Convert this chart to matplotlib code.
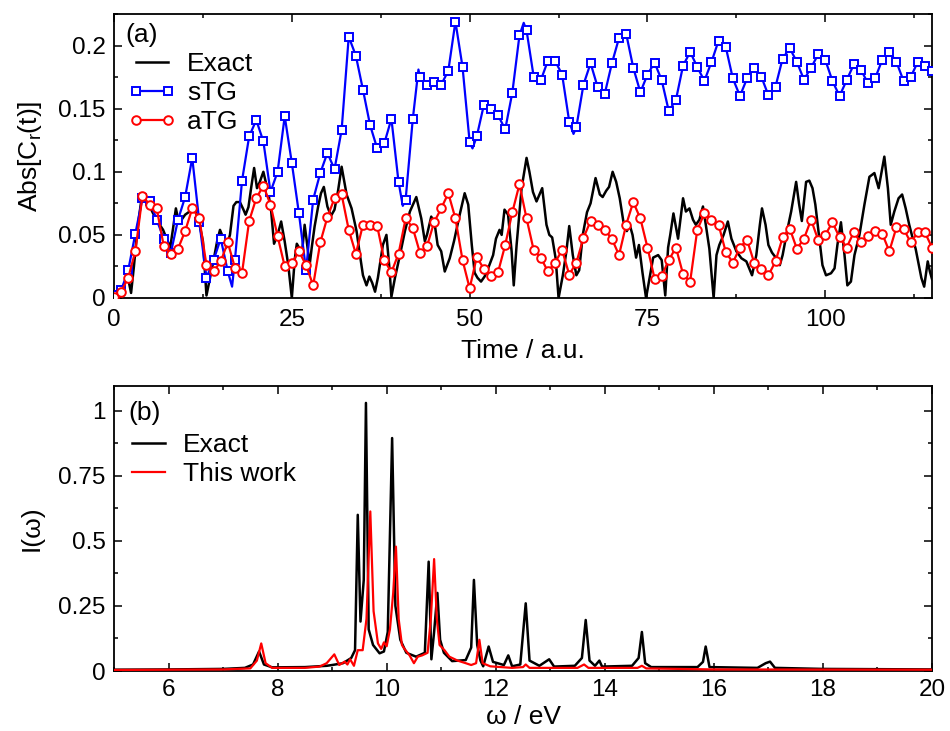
import matplotlib
matplotlib.use("Agg")
import matplotlib.pyplot as plt
import numpy as np

plt.rcParams['font.family'] = ['Liberation Sans', 'DejaVu Sans']
plt.rcParams['mathtext.default'] = 'regular'

# ---------------- Panel (a) data ----------------
exact_t = [0.0, 0.5, 1.0, 1.5, 2.0, 2.4, 2.8, 3.3, 3.9, 4.3, 4.8, 5.5, 6.2, 6.9, 7.4, 7.9,
           8.3, 8.7, 9.1, 9.5, 10.0, 10.5, 11.0, 11.5, 12.0, 12.5, 13.0, 13.5, 14.0, 14.5,
           14.9, 15.4, 15.8, 16.3, 16.8, 17.2, 17.7, 18.2, 18.5, 18.9, 19.3, 19.7, 20.1,
           20.5, 21.0, 21.7, 22.1, 22.5, 23.0, 23.5, 24.0, 24.5, 25.0, 25.4, 25.7, 26.0,
           26.4, 26.8, 27.1, 27.5, 27.8, 28.2, 28.7, 29.1, 29.5, 30.0, 30.5, 31.0, 31.5,
           32.0, 32.7, 33.4, 34.1, 34.5, 35.0, 35.5, 35.9, 36.3, 36.7, 37.1, 37.8, 38.3,
           38.7, 39.0, 39.5, 40.2, 40.9, 41.6, 42.5, 43.2, 43.7, 44.0, 44.6, 45.1, 45.5,
           46.0, 46.5, 47.2, 47.8, 48.6, 49.3, 49.8, 50.3, 50.7, 51.1, 51.6, 52.1, 52.7,
           53.3, 53.7, 54.2, 54.5, 54.9, 55.4, 55.9, 56.2, 56.6, 57.3, 58.0, 58.4, 58.9,
           59.4, 60.2, 60.8, 61.2, 61.6, 62.1, 62.5, 63.1, 63.6, 64.0, 64.5, 65.0, 65.4,
           65.9, 66.5, 67.0, 67.7, 68.3, 68.7, 69.2, 69.6, 70.1, 70.6, 71.1, 71.6, 72.1,
           72.5, 72.9, 73.4, 73.8, 74.3, 74.8, 75.3, 75.8, 76.5, 77.0, 77.5, 77.9, 78.2,
           78.65, 79.3, 80.0, 80.4, 80.9, 81.4, 81.8, 82.3, 82.8, 83.2, 83.7, 84.3, 84.7,
           85.1, 85.7, 86.3, 86.8, 87.5, 88.2, 88.9, 89.3, 89.7, 90.3, 90.8, 91.1, 91.6,
           92.0, 92.5, 93.1, 93.6, 94.0, 94.7, 95.2, 95.9, 96.3, 96.7, 97.3, 97.75, 98.2,
           98.6, 99.1, 99.6, 100.1, 100.8, 101.3, 101.7, 102.2, 102.7, 103.1, 103.6,
           104.1, 104.8, 105.5, 106.2, 106.9, 107.5, 108.3, 108.8, 109.2, 109.7, 110.3,
           110.8, 111.3, 111.8, 112.3, 112.7, 113.5, 113.9, 114.4, 114.7, 115.0]
exact_abs = [0.0, 0.002, 0.006, 0.012, 0.015, 0.004, 0.025, 0.055, 0.080, 0.082, 0.075,
             0.067, 0.060, 0.054, 0.047, 0.040, 0.055, 0.071, 0.060, 0.062, 0.066, 0.068,
             0.072, 0.068, 0.059, 0.045, 0.002, 0.016, 0.030, 0.045, 0.054, 0.047, 0.040,
             0.050, 0.073, 0.076, 0.076, 0.070, 0.066, 0.072, 0.088, 0.103, 0.087, 0.092,
             0.100, 0.083, 0.0685, 0.043, 0.050, 0.0606, 0.0447, 0.026, 0.0, 0.030, 0.043,
             0.040, 0.034, 0.058, 0.045, 0.026, 0.040, 0.0566, 0.0725, 0.083, 0.088,
             0.0725, 0.065, 0.070, 0.085, 0.104, 0.082, 0.071, 0.053, 0.037, 0.018, 0.010,
             0.017, 0.012, 0.005, 0.016, 0.042, 0.050, 0.025, 0.001, 0.016, 0.034, 0.053,
             0.0685, 0.080, 0.063, 0.045, 0.050, 0.0645, 0.058, 0.042, 0.037, 0.021,
             0.0315, 0.045, 0.066, 0.083, 0.074, 0.042, 0.020, 0.016, 0.013, 0.017, 0.025,
             0.034, 0.047, 0.054, 0.050, 0.070, 0.066, 0.037, 0.010, 0.042, 0.087, 0.111,
             0.100, 0.084, 0.0765, 0.087, 0.058, 0.050, 0.048, 0.031, 0.0, 0.018, 0.037,
             0.057, 0.034, 0.018, 0.022, 0.050, 0.068, 0.075, 0.095, 0.082, 0.080, 0.085,
             0.088, 0.100, 0.092, 0.079, 0.061, 0.053, 0.058, 0.050, 0.032, 0.042, 0.020,
             0.0, 0.016, 0.032, 0.034, 0.030, 0.002, 0.040, 0.050, 0.067, 0.047, 0.079,
             0.0685, 0.071, 0.062, 0.058, 0.062, 0.0725, 0.058, 0.039, 0.0, 0.034, 0.042,
             0.050, 0.0606, 0.047, 0.037, 0.0315, 0.029, 0.0235, 0.018, 0.034, 0.058,
             0.071, 0.058, 0.042, 0.036, 0.0315, 0.026, 0.034, 0.055, 0.0685, 0.092,
             0.075, 0.061, 0.092, 0.093, 0.087, 0.074, 0.050, 0.026, 0.018, 0.0196,
             0.0235, 0.042, 0.060, 0.034, 0.010, 0.013, 0.034, 0.050, 0.074, 0.096, 0.099,
             0.087, 0.112, 0.087, 0.058, 0.0685, 0.079, 0.082, 0.071, 0.058, 0.047, 0.039,
             0.016, 0.009, 0.029, 0.021, 0.015]

stg_t = [0, 1, 2, 3, 4, 5, 6, 7, 8, 9, 10, 11, 12, 13, 14, 15, 16, 16.6, 17, 18, 19, 20,
         21, 22, 23, 24, 25, 26, 27, 28, 29, 30, 31, 32, 33, 34, 35, 36, 37, 38, 39, 40,
         40.6, 41, 42, 42.8, 43, 44, 45, 46, 47, 48, 49, 50, 50.4, 51, 52, 53, 54, 55, 56,
         57, 57.6, 58, 59, 60, 61, 62, 63, 64, 64.6, 65, 66, 67, 68, 69, 70, 71, 72, 73,
         74, 75, 76, 77, 78, 79, 80, 81, 82, 83, 84, 85, 86, 87, 88, 89, 90, 91, 92, 93,
         94, 95, 96, 97, 98, 99, 100, 101, 102, 103, 104, 105, 106, 107, 108, 109, 110,
         111, 112, 113, 114, 115]
stg_abs = [0.002, 0.006, 0.022, 0.051, 0.079, 0.077, 0.062, 0.047, 0.036, 0.062, 0.080,
           0.111, 0.060, 0.016, 0.030, 0.047, 0.021, 0.009, 0.030, 0.093, 0.128, 0.141,
           0.124, 0.084, 0.100, 0.144, 0.107, 0.067, 0.022, 0.078, 0.099, 0.115, 0.102,
           0.133, 0.207, 0.192, 0.165, 0.137, 0.1185, 0.1225, 0.142, 0.092, 0.073, 0.078,
           0.1415, 0.181, 0.175, 0.169, 0.171, 0.169, 0.180, 0.219, 0.183, 0.1235, 0.1185,
           0.128, 0.153, 0.150, 0.1447, 0.1336, 0.1627, 0.208, 0.218, 0.212, 0.1754,
           0.1725, 0.188, 0.188, 0.177, 0.1397, 0.130, 0.1354, 0.169, 0.186, 0.167, 0.162,
           0.186, 0.206, 0.2095, 0.1825, 0.163, 0.177, 0.1865, 0.1725, 0.148, 0.157,
           0.184, 0.195, 0.183, 0.172, 0.187, 0.204, 0.199, 0.174, 0.160, 0.174, 0.1825,
           0.1754, 0.1606, 0.1675, 0.1897, 0.198, 0.187, 0.173, 0.1825, 0.193, 0.1886,
           0.172, 0.160, 0.1725, 0.185, 0.181, 0.170, 0.174, 0.1886, 0.195, 0.187, 0.172,
           0.175, 0.187, 0.184, 0.180]

atg_t = list(range(0, 116))
atg_abs = [0.001, 0.005, 0.016, 0.037, 0.081, 0.074, 0.071, 0.041, 0.035, 0.039, 0.053,
           0.071, 0.063, 0.026, 0.021, 0.029, 0.044, 0.024, 0.020, 0.061, 0.079, 0.089,
           0.074, 0.049, 0.025, 0.0275, 0.037, 0.026, 0.010, 0.044, 0.064, 0.079, 0.082,
           0.054, 0.035, 0.058, 0.058, 0.057, 0.030, 0.0204, 0.035, 0.063, 0.0556, 0.036,
           0.041, 0.060, 0.071, 0.083, 0.063, 0.030, 0.0077, 0.0325, 0.023, 0.0172,
           0.0206, 0.042, 0.068, 0.090, 0.063, 0.038, 0.032, 0.021, 0.028, 0.038, 0.0185,
           0.028, 0.0476, 0.061, 0.058, 0.054, 0.0468, 0.034, 0.058, 0.076, 0.063, 0.040,
           0.0153, 0.0177, 0.030, 0.040, 0.019, 0.013, 0.054, 0.067, 0.062, 0.058, 0.0365,
           0.028, 0.040, 0.046, 0.028, 0.023, 0.018, 0.029, 0.048, 0.055, 0.039, 0.047,
           0.062, 0.046, 0.050, 0.060, 0.048, 0.040, 0.052, 0.044, 0.049, 0.053, 0.051,
           0.037, 0.056, 0.055, 0.044, 0.052, 0.052, 0.040]

a_xticks = [0, 25, 50, 75, 100]
a_xlabels = ['0', '25', '50', '75', '100']
a_yticks = [0, 0.05, 0.1, 0.15, 0.2]
a_ylabels = ['0', '0.05', '0.1', '0.15', '0.2']

# ---------------- Panel (b) data ----------------
exact_w = [5.0, 6.0, 7.0, 7.4, 7.55, 7.66, 7.75, 7.9, 8.5, 8.9, 9.0, 9.2, 9.35, 9.42, 9.47,
           9.52, 9.58, 9.62, 9.67, 9.75, 9.87, 9.95, 10.02, 10.1, 10.16, 10.25, 10.36,
           10.54, 10.7, 10.77, 10.82, 10.87, 10.93, 10.98, 11.05, 11.2, 11.45, 11.55, 11.6,
           11.66, 11.72, 11.77, 11.87, 11.95, 12.15, 12.23, 12.3, 12.45, 12.55, 12.62,
           12.8, 12.98, 13.07, 13.45, 13.58, 13.65, 13.72, 13.82, 13.9, 13.95, 14.5, 14.62,
           14.68, 14.74, 14.85, 15.7, 15.8, 15.85, 15.92, 16.8, 16.95, 17.03, 17.12, 18.0,
           20.0]
exact_I = [0.005, 0.006, 0.008, 0.012, 0.025, 0.075, 0.025, 0.014, 0.015, 0.02, 0.023,
           0.03, 0.05, 0.08, 0.60, 0.19, 0.35, 1.03, 0.16, 0.10, 0.068, 0.075, 0.15, 0.895,
           0.25, 0.12, 0.07, 0.055, 0.07, 0.42, 0.045, 0.15, 0.30, 0.12, 0.07, 0.038,
           0.042, 0.09, 0.35, 0.10, 0.04, 0.018, 0.094, 0.035, 0.023, 0.06, 0.018, 0.025,
           0.26, 0.04, 0.02, 0.045, 0.017, 0.02, 0.05, 0.196, 0.04, 0.02, 0.04, 0.017,
           0.02, 0.05, 0.15, 0.03, 0.015, 0.015, 0.035, 0.094, 0.015, 0.012, 0.03, 0.036,
           0.012, 0.008, 0.006]

work_w = [5.0, 7.0, 7.5, 7.62, 7.7, 7.78, 7.9, 8.5, 8.77, 8.9, 9.04, 9.13, 9.23, 9.28,
          9.33, 9.4, 9.47, 9.56, 9.63, 9.7, 9.76, 9.84, 9.9, 9.95, 10.0, 10.06, 10.12,
          10.17, 10.22, 10.28, 10.32, 10.42, 10.5, 10.57, 10.65, 10.75, 10.81, 10.87,
          10.92, 10.97, 11.06, 11.15, 11.3, 11.45, 11.55, 11.64, 11.7, 11.76, 11.9, 12.3,
          12.5, 12.55, 12.62, 13.5, 13.62, 13.7, 14.6, 14.68, 14.76, 16.0, 20.0]
work_I = [0.004, 0.006, 0.01, 0.04, 0.106, 0.03, 0.012, 0.012, 0.017, 0.03, 0.064, 0.023,
          0.036, 0.025, 0.045, 0.02, 0.08, 0.08, 0.2, 0.613, 0.23, 0.106, 0.085, 0.11,
          0.095, 0.16, 0.3, 0.478, 0.2, 0.10, 0.087, 0.06, 0.03, 0.055, 0.06, 0.07, 0.2,
          0.43, 0.2, 0.10, 0.08, 0.055, 0.04, 0.03, 0.023, 0.03, 0.12, 0.03, 0.018, 0.012,
          0.015, 0.025, 0.012, 0.012, 0.025, 0.012, 0.012, 0.02, 0.01, 0.006, 0.005]

b_xticks = [6, 8, 10, 12, 14, 16, 18, 20]
b_xlabels = ['6', '8', '10', '12', '14', '16', '18', '20']
b_yticks = [0, 0.25, 0.5, 0.75, 1]
b_ylabels = ['0', '0.25', '0.5', '0.75', '1']

# ---------------- Figure ----------------
fig = plt.figure(figsize=(9.5, 7.31), dpi=100)
ax1 = fig.add_axes([114/950, 1-298/731, 818/950, 284/731])
ax2 = fig.add_axes([114/950, 1-671/731, 818/950, 285/731])

TICK_FS = 17.5
LAB_FS = 19
LEG_FS = 19

for ax in (ax1, ax2):
    for sp in ax.spines.values():
        sp.set_linewidth(1.3)
    ax.tick_params(which='both', direction='in', top=True, right=True, width=1.1,
                   labelsize=TICK_FS)
    ax.tick_params(which='major', length=5.5)
    ax.tick_params(which='minor', length=2.9)
    ax.tick_params(axis='y', pad=6)
ax1.tick_params(axis='x', pad=8)
ax2.tick_params(axis='x', pad=6)

# Panel (a)
mk_idx = [i for i, t in enumerate(stg_t) if float(t).is_integer()]
ax1.plot(exact_t, exact_abs, color='black', lw=1.8, label='Exact', zorder=2)
ax1.plot(stg_t, stg_abs, color='#0000ff', lw=1.6, marker='s', markevery=mk_idx,
         markersize=5.8, markerfacecolor='white', markeredgewidth=1.4, label='sTG', zorder=3)
ax1.plot(atg_t, atg_abs, color='#ff0000', lw=1.6, marker='o', markersize=6.2,
         markerfacecolor='white', markeredgewidth=1.4, label='aTG', zorder=4)
ax1.set_xlim(0, 115)
ax1.set_ylim(0, 0.225)
ax1.set_xticks(a_xticks)
ax1.set_xticklabels(a_xlabels)
ax1.set_xticks(np.arange(12.5, 115, 25), minor=True)
ax1.set_yticks(a_yticks)
ax1.set_yticklabels(a_ylabels)
ax1.set_yticks([0.025, 0.075, 0.125, 0.175, 0.225], minor=True)
ax1.set_xlabel('Time / a.u.', fontsize=LAB_FS, labelpad=6)
ax1.set_ylabel('Abs[C$_\\mathregular{r}$(t)]', fontsize=LAB_FS, labelpad=10.5)
ax1.text(0.014, 0.925, '(a)', transform=ax1.transAxes, fontsize=LEG_FS,
         ha='left', va='center')
ax1.legend(loc='upper left', bbox_to_anchor=(0.017, 0.867), frameon=False,
           fontsize=LEG_FS, handlelength=1.82, handletextpad=0.42, labelspacing=0.2,
           borderpad=0, borderaxespad=0, numpoints=2)

# Panel (b)
ax2.plot(exact_w, exact_I, color='black', lw=1.8, label='Exact', zorder=2)
ax2.plot(work_w, work_I, color='#ff0000', lw=1.6, label='This work', zorder=3)
ax2.set_xlim(5, 20)
ax2.set_ylim(0, 1.095)
ax2.set_xticks(b_xticks)
ax2.set_xticklabels(b_xlabels)
ax2.set_xticks(np.arange(5, 20.5, 1), minor=True)
ax2.set_yticks(b_yticks)
ax2.set_yticklabels(b_ylabels)
ax2.set_yticks(np.arange(0.125, 1.1, 0.25), minor=True)
ax2.set_xlabel('ω / eV', fontsize=LAB_FS, labelpad=2.5)
ax2.set_ylabel('I(ω)', fontsize=LAB_FS, labelpad=10.5)
ax2.text(0.017, 0.905, '(b)', transform=ax2.transAxes, fontsize=LEG_FS,
         ha='left', va='center')
ax2.legend(loc='upper left', bbox_to_anchor=(0.022, 0.836), frameon=False,
           fontsize=LEG_FS, handlelength=1.25, handletextpad=0.68, labelspacing=0.2,
           borderpad=0, borderaxespad=0)

fig.savefig('out.png', dpi=100)
